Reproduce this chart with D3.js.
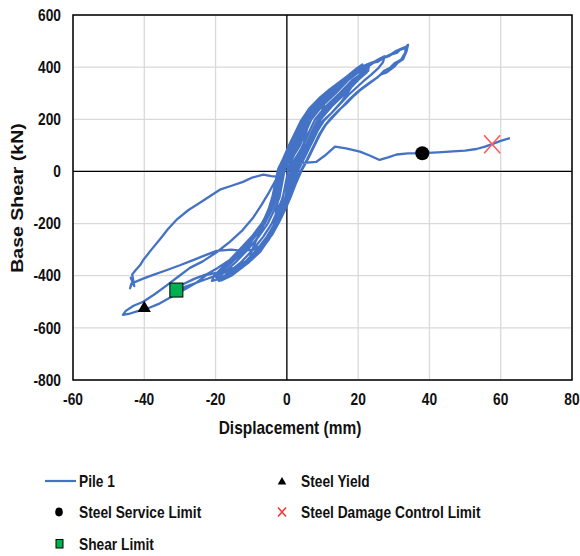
<!DOCTYPE html>
<html>
<head>
<meta charset="utf-8">
<title>Pile 1 hysteresis</title>
<script src="https://d3js.org/d3.v7.min.js"></script>
<style>
	body { margin: 0; background: #fff; }
	svg text { font-family: "Liberation Sans", Arial, sans-serif; font-weight: bold; fill: #111; }
</style>
</head>
<body>
<svg width="580" height="556"></svg>
<script type="text/javascript">
	// axis ticks
	let xTicks = [-60, -40, -20, 0, 20, 40, 60, 80];
	let yTicks = [-800, -600, -400, -200, 0, 200, 400, 600];

	// Pile 1 displacement (mm) / base shear (kN) in load order
	let pile1 = [
		// small cycle
		[0,0],[1.6,50],[3.2,100],[4.6,150],[6,195],
		[5.6,160],[4.8,110],[3.2,60],[1.4,10],[0,-40],[-1.2,-100],[-2.4,-160],[-3.6,-205],
		[-3.2,-170],[-2.6,-120],[-1.8,-60],[-1,0],
		// cycle to +11 / -10
		[0.6,40],[2.2,90],[3.6,140],[5,190],[6.8,230],[9,265],[11,290],
		[10.6,265],[9.6,220],[8.4,180],[7,140],[5.4,90],[3.6,45],[1.8,0],[0.4,-60],[-0.8,-120],[-2.4,-180],[-4,-230],[-6,-275],[-8.6,-320],[-10.4,-335],
		[-10,-310],[-8.8,-270],[-7,-220],[-5.4,-170],[-3.8,-110],[-2.6,-50],[-1.8,0],
		// cycle to +21 / -21
		[-0.2,40],[1.6,90],[3.4,140],[4.8,190],[7,235],[9.8,275],[12.4,310],[15,340],[17.8,375],[19.6,395],[21.2,410],
		[21,385],[20,360],[18.4,330],[17,300],[15.2,265],[12.6,225],[9.8,190],[8,150],[6.4,100],[4.4,50],[2.4,0],[0.8,-70],[-0.4,-110],[-2,-180],[-3.6,-220],[-5.6,-270],[-7.6,-310],[-10,-340],[-13,-370],[-16,-395],[-19,-412],[-21,-420],
		[-20.6,-405],[-19,-385],[-16.4,-360],[-13.2,-320],[-11,-290],[-8.6,-240],[-6.8,-200],[-5,-150],[-3.8,-100],[-3,-50],[-2.6,0],
		// repeated cycles at about +22 / -20
		[-0.1,50],[2.27,100],[3.7,150],[5.32,200],[8.16,250],[12.05,300],[15.55,350],[18.67,380],[20.6,396],[22,402],
		[22.4,380],[19.95,350],[16.45,300],[12.64,250],[9.48,200],[7.7,150],[6.03,100],[3.9,50],[1.88,0],[1.1,-50],[0.32,-100],[-1.1,-150],[-2.56,-200],[-4.65,-250],[-7.25,-300],[-10.75,-350],[-15.6,-400],[-18.4,-418],
		[-20.4,-400],[-16.75,-350],[-13.25,-300],[-9.85,-250],[-7.04,-200],[-5.1,-150],[-3.52,-100],[-2.9,-50],[-2.28,0],
		[0.65,50],[3,100],[4.45,150],[6.1,200],[9,250],[12.9,300],[16.4,350],[19.4,380],[21,394],[21.8,396],
		[21.7,380],[19.1,350],[15.6,300],[11.8,250],[8.7,200],[6.95,150],[5.33,100],[3.15,50],[1.1,0],[0.35,-50],[-0.4,-100],[-1.85,-150],[-3.4,-200],[-5.6,-250],[-8.4,-300],[-11.9,-350],[-16.5,-400],[-18.6,-412],
		[-19.5,-400],[-15.6,-350],[-12.1,-300],[-8.9,-250],[-6.2,-200],[-4.35,-150],[-2.8,-100],[-2.15,-50],[-1.5,0],
		[1.4,50],[3.68,100],[5.2,150],[6.88,200],[9.84,250],[13.7,300],[17.2,350],[20.1,380],[21.4,392],
		[21,375],[18.3,350],[14.8,300],[10.96,250],[7.92,200],[6.2,150],[4.62,100],[2.4,50],[0.32,0],[-0.4,-50],[-1.12,-100],[-2.6,-150],[-4.24,-200],[-6.6,-250],[-9.5,-300],[-13,-350],[-17.4,-400],[-18.8,-408],
		[-18.6,-400],[-14.5,-350],[-11,-300],[-7.9,-250],[-5.36,-200],[-3.6,-150],[-2.08,-100],[-1.4,-50],[-0.72,0],
		[0.3,50],[2.65,100],[4.1,150],[5.74,200],[8.6,250],[12.5,300],[16,350],[19.05,380],[21.6,400],[23,405],
		[22.8,385],[22,380],[19.5,350],[16,300],[12.2,250],[9.06,200],[7.3,150],[5.65,100],[3.5,50],[1.46,0],[0.7,-50],[-0.06,-100],[-1.5,-150],[-3,-200],[-5.17,-250],[-7.85,-300],[-11.35,-350],[-16.1,-400],[-19,-420],
		[-19.9,-400],[-16.15,-350],[-12.65,-300],[-9.35,-250],[-6.6,-200],[-4.7,-150],[-3.14,-100],[-2.5,-50],[-1.86,0],
		// cycle to +27 / -33
		[-0.8,40],[1.2,90],[2.8,140],[4.4,190],[6.4,235],[9,270],[11.8,305],[14.6,340],[17.4,370],[19.8,392],[22.4,410],[24.4,420],[26,432],[27.4,442],
		[27,420],[25.6,395],[23.6,370],[21.4,345],[19.4,320],[17.4,295],[15,260],[12.6,225],[10.4,195],[8.6,155],[7,110],[5.2,60],[3,0],[1.4,-60],[0,-110],[-1.4,-160],[-3,-210],[-5,-260],[-7.2,-300],[-10,-335],[-13.6,-365],[-17,-385],[-21,-405],[-25,-425],[-29,-445],[-32.6,-468],
		[-31.6,-450],[-29,-432],[-26,-412],[-22.6,-395],[-19.4,-370],[-16,-340],[-13,-305],[-10.4,-270],[-8.2,-230],[-6.4,-185],[-5,-140],[-4,-95],[-3.2,-40],[-2.4,10],
		// cycle to +34, soft loop on the negative side
		[-1,50],[0.6,100],[2.4,150],[4,195],[6.2,240],[9,280],[12,315],[15,345],[17.6,372],[19.6,392],[21,408],[22.4,400],[24,416],[25.4,420],[27,434],[28.6,442],[29.6,450],[31,456],[31.7,466],[33,472],[34,486],
		[33.6,462],[32.6,430],[31.2,418],[30,400],[28,380],[26.4,372],[24.6,352],[22.4,330],[20.6,312],[18.8,290],[16.8,262],[14.6,235],[12.4,205],[10.6,175],[9,140],[7.4,95],[5.6,45],[3.6,-5],[1.8,-60],[0.6,-100],[-1,-150],[-2.6,-200],[-4.6,-245],[-6.8,-280],[-9.4,-300],[-12.4,-305],[-15.6,-300],[-19.7,-305],[-23,-322],[-26.3,-340],[-30,-360],[-34,-380],[-37.5,-397],[-40.5,-412],[-43.6,-430],
		[-44,-448],[-43.2,-420],[-43.8,-408],[-42.8,-440],[-43.4,-395],[-42.4,-378],
		[-41.2,-360],[-40.3,-340],[-38,-300],[-35.6,-260],[-33.4,-222],[-31,-186],[-27.6,-148],[-24.4,-120],[-21.6,-95],[-18.8,-70],[-15.5,-55],[-12.3,-40],[-10,-25],[-6.6,-12],[-4.4,-18],[-2.9,-20],
		// last cycle to +33 / -46
		[-1.6,20],[0,70],[1.8,120],[3.4,165],[5.4,215],[8,255],[11,295],[14,330],[16.8,360],[19,385],[20.6,402],[22,395],[23.6,410],[25.4,428],[27.4,438],[29,448],[30.6,462],[32,470],[33.4,478],
		[33.2,455],[32,428],[30.2,415],[29,398],[27.2,385],[25.6,362],[23.2,340],[21.2,320],[19.4,300],[17.4,275],[15.4,245],[13,210],[11,180],[9.4,145],[7.8,100],[6,50],[4,0],[2.4,-50],[1,-100],[-0.6,-150],[-2.2,-195],[-4,-240],[-6.2,-280],[-8.8,-315],[-11.6,-345],[-14.8,-370],[-18.6,-385],[-22.5,-397],[-25.2,-425],[-28.1,-448],[-31.6,-475],[-35.6,-506],[-38.4,-522],[-41.6,-535],[-44,-545],[-46,-550],
		[-45.2,-535],[-43,-515],[-40.3,-500],[-37,-470],[-33.8,-438],[-30.6,-405],[-27.2,-370],[-23.6,-345],[-19.7,-310],[-16,-270],[-12.4,-225],[-9.6,-180],[-7.2,-130],[-5,-80],[-3,-30],[-1.2,10],
		// final push with lost strength
		[1,25],[3.2,33],[5.6,34],[8.3,37],[10.6,60],[13.5,95],[16.6,88],[20.5,76],[23.4,60],[26,44],[28.4,54],[30.8,65],[34,69],[38,70],[42.4,73],[46.6,77],[50,80],[53.2,86],[55.6,95],[57.6,105],[60,117],[62.6,128]
	];

	// limit state points
	let steelYield = [[-40, -525]];
	let steelService = [[38, 70]];
	let steelDamage = [[57.6, 104]];
	let shearLimit = [[-31, -455]];

	let legendNames = ["Pile 1", "Steel Yield", "Steel Service Limit", "Steel Damage Control Limit", "Shear Limit"];

	const blue = "#4472C4";
	let svg = d3.select("svg");
	let x = d3.scaleLinear().domain([-60, 80]).range([73, 572]);
	let y = d3.scaleLinear().domain([-800, 600]).range([380, 15]);

	// text is a little narrow in the source, squeeze it
	function label(g, px, py, txt, size, anchor)
	{
		return g.append("text")
			.attr("transform", "translate(" + px + "," + py + ") scale(0.86,1)")
			.attr("text-anchor", anchor)
			.style("font-size", size + "px")
			.text(txt);
	}

	// grid
	svg.append("g").selectAll("line").data(xTicks).join("line")
		.attr("x1", d => x(d)).attr("x2", d => x(d))
		.attr("y1", y(600)).attr("y2", y(-800))
		.attr("stroke", "#d9d9d9").attr("stroke-width", 1.3);
	svg.append("g").selectAll("line").data(yTicks).join("line")
		.attr("x1", x(-60)).attr("x2", x(80))
		.attr("y1", d => y(d)).attr("y2", d => y(d))
		.attr("stroke", "#d9d9d9").attr("stroke-width", 1.3);

	// zero lines and frame
	svg.append("line").attr("x1", x(0)).attr("x2", x(0)).attr("y1", y(600)).attr("y2", y(-800))
		.attr("stroke", "#000").attr("stroke-width", 1.3);
	svg.append("line").attr("x1", x(-60)).attr("x2", x(80)).attr("y1", y(0)).attr("y2", y(0))
		.attr("stroke", "#000").attr("stroke-width", 1.3);
	svg.append("rect").attr("x", x(-60)).attr("y", y(600))
		.attr("width", x(80) - x(-60)).attr("height", y(-800) - y(600))
		.attr("fill", "none").attr("stroke", "#000").attr("stroke-width", 1.5);

	// tick labels
	let axisG = svg.append("g");
	xTicks.forEach(d => label(axisG, x(d), 405, d, 16, "middle"));
	yTicks.forEach(d => label(axisG, 61, y(d) + 5.7, d, 16, "end"));

	// axis titles
	label(svg, 290, 434, "Displacement (mm)", 18, "middle");
	svg.append("text")
		.attr("transform", "translate(23,198) rotate(-90) scale(1,0.86)")
		.attr("text-anchor", "middle")
		.style("font-size", "19.5px")
		.text("Base Shear (kN)");

	// pile curve
	svg.append("path")
		.datum(pile1)
		.attr("fill", "none")
		.attr("stroke", blue)
		.attr("stroke-width", 2.3)
		.attr("stroke-linejoin", "round")
		.attr("d", d3.line().x(d => x(d[0])).y(d => y(d[1])));

	// markers
	svg.selectAll(".service").data(steelService).join("circle")
		.attr("cx", d => x(d[0])).attr("cy", d => y(d[1]))
		.attr("r", 7).attr("fill", "#000");
	svg.selectAll(".yield").data(steelYield).join("path")
		.attr("transform", d => "translate(" + x(d[0]) + "," + y(d[1]) + ")")
		.attr("d", d3.symbol().type(d3.symbolTriangle).size(75))
		.attr("fill", "#000");
	svg.selectAll(".shear").data(shearLimit).join("rect")
		.attr("x", d => x(d[0]) - 6.5).attr("y", d => y(d[1]) - 7)
		.attr("width", 13).attr("height", 14)
		.attr("fill", "#00B050").attr("stroke", "#000").attr("stroke-width", 1);
	svg.selectAll(".damage").data(steelDamage).join("path")
		.attr("transform", d => "translate(" + x(d[0]) + "," + y(d[1]) + ")")
		.attr("d", "M-8,-9L8,9M-8,9L8,-9")
		.attr("stroke", "#FF5A5A").attr("stroke-width", 1.6).attr("fill", "none");

	// legend
	let leg = svg.append("g");
	leg.append("line").attr("x1", 45).attr("x2", 76).attr("y1", 481).attr("y2", 481)
		.attr("stroke", blue).attr("stroke-width", 2.2);
	label(leg, 79, 486.8, legendNames[0], 16, "start");
	leg.append("path").attr("transform", "translate(282,482)")
		.attr("d", d3.symbol().type(d3.symbolTriangle).size(32)).attr("fill", "#000");
	label(leg, 301, 486.8, legendNames[1], 16, "start");
	leg.append("ellipse").attr("cx", 59).attr("cy", 512).attr("rx", 3.8).attr("ry", 4.4).attr("fill", "#000");
	label(leg, 79, 517.5, legendNames[2], 16, "start");
	leg.append("path").attr("transform", "translate(282,512)")
		.attr("d", "M-4,-4.5L4,4.5M-4,4.5L4,-4.5")
		.attr("stroke", "#FF3030").attr("stroke-width", 1.5);
	label(leg, 301, 517.5, legendNames[3], 16, "start");
	leg.append("rect").attr("x", 56).attr("y", 539.5).attr("width", 7).attr("height", 8.5)
		.attr("fill", "#00B050").attr("stroke", "#000").attr("stroke-width", 1);
	label(leg, 79, 549.8, legendNames[4], 16, "start");
</script>
</body>
</html>
